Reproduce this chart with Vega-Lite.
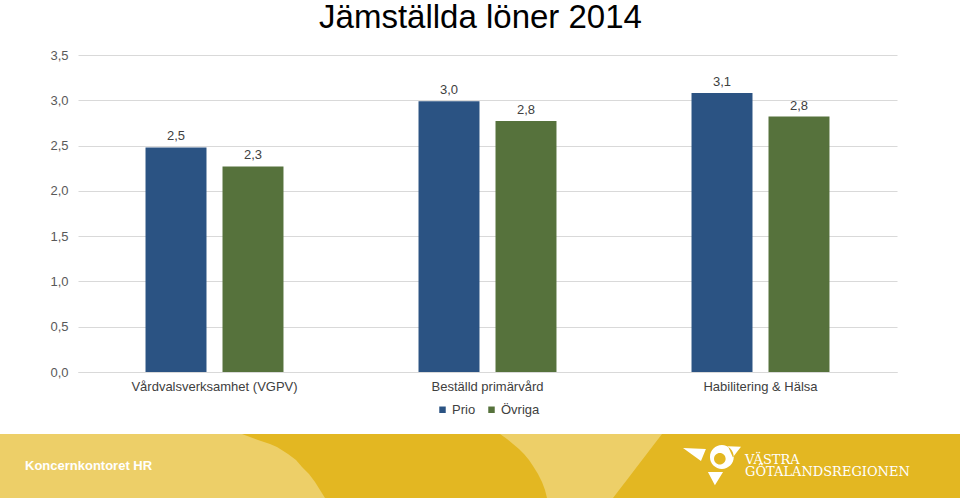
{
  "$schema": "https://vega.github.io/schema/vega-lite/v6.json",
  "padding": {"top": 2, "left": 0, "right": 0, "bottom": 0},
  "spacing": 17,
  "bounds": "full",
  "background": "white",
  "resolve": {"scale": {"color": "independent", "x": "independent", "y": "independent"}, "legend": {"color": "independent"}},
  "config": {
    "font": "Liberation Sans",
    "view": {"stroke": null},
    "locale": {"number": {"decimal": ",", "thousands": " ", "grouping": [3], "currency": ["", " kr"]}}
  },
  "datasets": {
    "loner": [
      {"kategori": "Vårdvalsverksamhet (VGPV)", "grupp": "Prio", "varde": 2.48},
      {"kategori": "Vårdvalsverksamhet (VGPV)", "grupp": "Övriga", "varde": 2.27},
      {"kategori": "Beställd primärvård", "grupp": "Prio", "varde": 2.99},
      {"kategori": "Beställd primärvård", "grupp": "Övriga", "varde": 2.77},
      {"kategori": "Habilitering & Hälsa", "grupp": "Prio", "varde": 3.08},
      {"kategori": "Habilitering & Hälsa", "grupp": "Övriga", "varde": 2.82}
    ],
    "bannerbg": [{"x0": 0, "x1": 960, "y0": 0, "y1": 64}],
    "banner": [
      {"region": "A", "y": 0, "x0": 0, "x1": 242},
      {"region": "A", "y": 3, "x0": 0, "x1": 250},
      {"region": "A", "y": 6, "x0": 0, "x1": 258},
      {"region": "A", "y": 10, "x0": 0, "x1": 270},
      {"region": "A", "y": 13, "x0": 0, "x1": 277},
      {"region": "A", "y": 20, "x0": 0, "x1": 288},
      {"region": "A", "y": 26, "x0": 0, "x1": 296},
      {"region": "A", "y": 33, "x0": 0, "x1": 302},
      {"region": "A", "y": 40, "x0": 0, "x1": 309},
      {"region": "A", "y": 48, "x0": 0, "x1": 315},
      {"region": "A", "y": 56, "x0": 0, "x1": 320},
      {"region": "A", "y": 64, "x0": 0, "x1": 325},
      {"region": "B", "y": 0, "x0": 500, "x1": 662},
      {"region": "B", "y": 5, "x0": 507, "x1": 658.2},
      {"region": "B", "y": 10, "x0": 513, "x1": 654.3},
      {"region": "B", "y": 15, "x0": 519, "x1": 650.5},
      {"region": "B", "y": 20, "x0": 524, "x1": 646.7},
      {"region": "B", "y": 26, "x0": 529, "x1": 642.1},
      {"region": "B", "y": 32, "x0": 533, "x1": 637.5},
      {"region": "B", "y": 40, "x0": 538, "x1": 631.4},
      {"region": "B", "y": 48, "x0": 542, "x1": 625.3},
      {"region": "B", "y": 56, "x0": 545, "x1": 619.1},
      {"region": "B", "y": 64, "x0": 547, "x1": 613}
    ],
    "bannertext": [
      {"text": ["Koncernkontoret HR"], "x": 25, "y": 36, "kind": "hr"},
      {"text": ["VÄSTRA", "GÖTALANDSREGIONEN"], "x": 745, "y": 30, "kind": "logo"}
    ],
    "logo": [{"x": 712, "y": 32}]
  },
  "vconcat": [
    {
      "title": {"text": "Jämställda löner 2014", "fontSize": 33, "font": "Liberation Sans", "fontWeight": "normal", "color": "#000000", "anchor": "middle", "dx": -7, "dy": 1, "offset": 15},
      "width": 819,
      "height": 317,
      "data": {"name": "loner"},
      "encoding": {
        "x": {
          "field": "kategori", "type": "nominal", "sort": null, "title": null,
          "scale": {"paddingInner": 0, "paddingOuter": 0},
          "axis": {"labelAngle": 0, "labelFontSize": 13, "labelColor": "#404040", "labelPadding": 8, "ticks": false, "domainColor": "#D9D9D9", "labelFont": "Liberation Sans"}
        },
        "xOffset": {
          "field": "grupp", "type": "nominal",
          "scale": {"domain": ["Prio", "Övriga"], "paddingInner": 0.208, "paddingOuter": 0.877}
        },
        "y": {
          "field": "varde", "type": "quantitative", "title": null,
          "scale": {"domain": [0, 3.5]},
          "axis": {"values": [0, 0.5, 1, 1.5, 2, 2.5, 3, 3.5], "format": ".1f", "labelFontSize": 13, "labelColor": "#595959", "labelPadding": 10, "ticks": false, "domain": false, "gridColor": "#D9D9D9", "minExtent": 78, "maxExtent": 78, "labelFont": "Liberation Sans"}
        }
      },
      "layer": [
        {
          "mark": {"type": "bar"},
          "encoding": {
            "color": {
              "field": "grupp", "type": "nominal",
              "scale": {"domain": ["Prio", "Övriga"], "range": ["#2B5383", "#56723C"]},
              "legend": {"title": null, "orient": "none", "legendX": 358, "legendY": 348, "direction": "horizontal", "symbolType": "square", "symbolSize": 42, "labelFontSize": 13, "labelColor": "#404040", "columnPadding": 9, "labelOffset": 3, "labelFont": "Liberation Sans", "padding": 0}
            }
          }
        },
        {
          "mark": {"type": "text", "dy": -11, "fontSize": 13, "color": "#404040"},
          "encoding": {"text": {"field": "varde", "type": "quantitative", "format": ".1f"}}
        }
      ]
    },
    {
      "width": 882,
      "height": 64,
      "encoding": {
        "x": {"type": "quantitative", "scale": {"domain": [78, 960], "nice": false}, "axis": null},
        "y": {"type": "quantitative", "scale": {"domain": [0, 64], "reverse": true, "nice": false}, "axis": null}
      },
      "layer": [
        {
          "data": {"name": "bannerbg"},
          "mark": {"type": "rect", "color": "#E3B722", "opacity": 1},
          "encoding": {
            "x": {"field": "x0", "type": "quantitative", "scale": {"domain": [78, 960], "nice": false}, "axis": null},
            "x2": {"field": "x1"},
            "y": {"field": "y0", "type": "quantitative", "scale": {"domain": [0, 64], "reverse": true, "nice": false}, "axis": null},
            "y2": {"field": "y1"}
          }
        },
        {
          "data": {"name": "banner"},
          "mark": {"type": "area", "orient": "horizontal", "color": "#EDCF68", "opacity": 1},
          "encoding": {
            "y": {"field": "y", "type": "quantitative"},
            "x": {"field": "x0", "type": "quantitative"},
            "x2": {"field": "x1"},
            "detail": {"field": "region", "type": "nominal"}
          }
        },
        {
          "data": {"name": "bannertext"},
          "transform": [{"filter": "datum.kind === 'hr'"}],
          "mark": {"type": "text", "align": "left", "baseline": "alphabetic", "color": "#FFFFFF", "fontWeight": "bold", "fontSize": 13, "font": "Liberation Sans Narrow, Liberation Sans"},
          "encoding": {
            "x": {"field": "x", "type": "quantitative"},
            "y": {"field": "y", "type": "quantitative"},
            "text": {"field": "text"}
          }
        },
        {
          "data": {"name": "bannertext"},
          "transform": [{"filter": "datum.kind === 'logo'"}],
          "mark": {"type": "text", "align": "left", "baseline": "alphabetic", "color": "#FFFFFF", "fontSize": 13, "lineHeight": 12, "font": "DejaVu Serif"},
          "encoding": {
            "x": {"field": "x", "type": "quantitative"},
            "y": {"field": "y", "type": "quantitative"},
            "text": {"field": "text"}
          }
        },
        {
          "data": {"name": "logo"},
          "mark": {
            "type": "point", "filled": true, "color": "#FFFFFF", "opacity": 1, "size": 3364, "strokeWidth": 0,
            "shape": "M-1,-0.62 L-0.21,-0.59 L-0.38,-0.17 Z M-0.07,-0.31 A0.41,0.41 0 1,0 0.75,-0.31 A0.41,0.41 0 1,0 -0.07,-0.31 Z M0.07,-0.25 A0.2,0.2 0 1,1 0.47,-0.25 A0.2,0.2 0 1,1 0.07,-0.25 Z M0.55,-0.68 L1,-0.66 L0.72,-0.3 Z M-0.14,0.21 L0.38,0.21 L0.1,0.66 Z"
          },
          "encoding": {
            "x": {"field": "x", "type": "quantitative"},
            "y": {"field": "y", "type": "quantitative"}
          }
        }
      ]
    }
  ]
}
